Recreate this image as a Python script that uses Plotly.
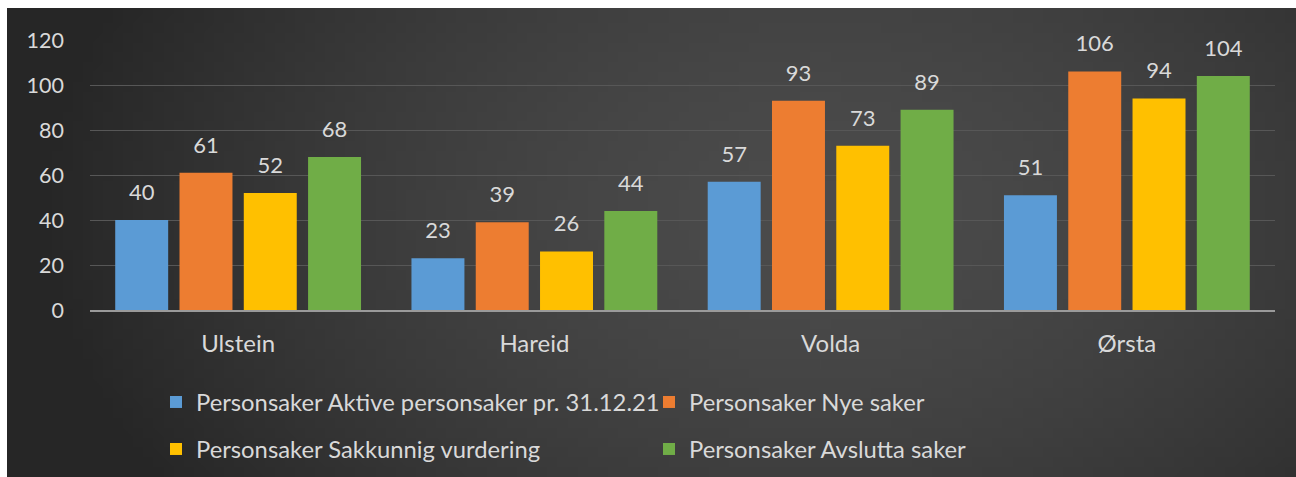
import zlib, struct, base64, math
import plotly.graph_objects as go

categories = ["Ulstein", "Hareid", "Volda", "Ørsta"]
series_names = [
    "Personsaker Aktive personsaker pr. 31.12.21",
    "Personsaker Nye saker",
    "Personsaker Sakkunnig vurdering",
    "Personsaker Avslutta saker",
]
aktive = [40, 23, 57, 51]
nye = [61, 39, 93, 106]
sakkunnig = [52, 26, 73, 94]
avslutta = [68, 44, 89, 104]
y_ticks = [0, 20, 40, 60, 80, 100, 120]

series_values = [aktive, nye, sakkunnig, avslutta]
colors = ["#5b9bd5", "#ed7d31", "#ffc000", "#70ad47"]
legend_ids = ["legend", "legend", "legend2", "legend2"]

W, H = 1296, 477
ML, MR, MT, MB = 90, 21, 40, 167
PW, PH = W - ML - MR, H - MT - MB
BOTTOM = H - MB  # pixel row of the x axis
BX0, BY0 = 7, 8  # top-left corner of the dark panel
EXT = 24  # extra pixels the background image reaches past the right/bottom edge


def make_png(w, h, fn):
    rows = []
    for j in range(h):
        row = bytearray(b"\x00")
        for i in range(w):
            row += bytes(fn(i, j))
        rows.append(bytes(row))
    raw = b"".join(rows)

    def chunk(t, data):
        return (struct.pack(">I", len(data)) + t + data
                + struct.pack(">I", zlib.crc32(t + data) & 0xFFFFFFFF))

    png = (b"\x89PNG\r\n\x1a\n"
           + chunk(b"IHDR", struct.pack(">IIBBBBB", w, h, 8, 2, 0, 0, 0))
           + chunk(b"IDAT", zlib.compress(raw))
           + chunk(b"IEND", b""))
    return "data:image/png;base64," + base64.b64encode(png).decode()


gw, gh = 130, 50
inner, outer = 0x4b, 0x26
bw, bh = W - BX0 + EXT, H - BY0 + EXT


def grad(i, j):
    px = BX0 + (i + 0.5) / gw * bw
    py = BY0 + (j + 0.5) / gh * bh
    d = math.sqrt(((px - 820) / 780) ** 2 + ((py - 210) / 520) ** 2)
    d = min(d, 1.0)
    v = int(round(inner + (outer - inner) * d ** 1.6))
    return (v, v, v)


bg = make_png(gw, gh, grad)

FONT = "Lato"
TXT = "#d9d9d9"

fig = go.Figure()
for name, vals, col, lg in zip(series_names, series_values, colors, legend_ids):
    fig.add_trace(go.Bar(
        x=categories, y=vals, name=name, marker=dict(color=col, line=dict(width=0)),
        offsetgroup=name, legend=lg,
    ))
for name, vals in zip(series_names, series_values):
    fig.add_trace(go.Scatter(
        x=categories, y=vals, mode="markers+text", text=[str(v) for v in vals],
        textposition="top center", offsetgroup=name, showlegend=False,
        marker=dict(size=22, color="rgba(0,0,0,0)"),
        textfont=dict(family=FONT, size=22, color=TXT),
        cliponaxis=False, hoverinfo="skip",
    ))

legend_common = dict(orientation="h", xanchor="left", yanchor="middle",
                     entrywidth=448, font=dict(family=FONT, size=23.8, color=TXT),
                     bgcolor="rgba(0,0,0,0)")

x_left, x_right = -ML / PW, (W - ML) / PW
y_top, y_bot = BOTTOM / PH, (BOTTOM - H) / PH
white_strips = [
    dict(type="rect", xref="paper", yref="paper", layer="below",
         x0=x_left, x1=x_right, y0=(BOTTOM - BY0) / PH, y1=y_top,
         fillcolor="white", line=dict(width=0)),
    dict(type="rect", xref="paper", yref="paper", layer="below",
         x0=x_left, x1=(BX0 - ML) / PW, y0=y_bot, y1=y_top,
         fillcolor="white", line=dict(width=0)),
]

fig.update_layout(
    width=W, height=H,
    margin=dict(l=ML, r=MR, t=MT, b=MB, pad=0, autoexpand=False),
    paper_bgcolor="#363636", plot_bgcolor="rgba(0,0,0,0)",
    barmode="group", scattermode="group", bargap=0.132, bargroupgap=0.176,
    font=dict(family=FONT, size=22, color=TXT),
    images=[dict(source=bg, xref="paper", yref="paper",
                 x=(BX0 - ML) / PW, y=(BOTTOM - BY0) / PH,
                 sizex=bw / PW, sizey=bh / PH,
                 xanchor="left", yanchor="top", sizing="stretch", layer="below")],
    shapes=white_strips,
    legend=dict(legend_common, x=(156 - ML) / PW, y=(BOTTOM - 402) / PH),
    legend2=dict(legend_common, x=(156 - ML) / PW, y=(BOTTOM - 449) / PH),
)
fig.update_yaxes(range=[0, 120], tickvals=y_ticks, showgrid=True,
                 gridcolor="#575757", gridwidth=1, zeroline=False,
                 ticklabelstandoff=25, tickfont=dict(size=21.5))
fig.update_xaxes(showline=True, linecolor="#9a9a9a", linewidth=2,
                 ticklabelstandoff=11, tickfont=dict(size=24))

fig.write_html(
    "out.html",
    config={"displayModeBar": False},
    post_script=(
        "document.documentElement.style.margin='0';"
        "document.documentElement.style.overflow='hidden';"
        "document.body.style.margin='0';"
        "document.body.style.overflow='hidden';"
        "var d=document.getElementById('{plot_id}');"
        "d.style.position='fixed';d.style.left='0px';d.style.top='0px';"
    ),
)
